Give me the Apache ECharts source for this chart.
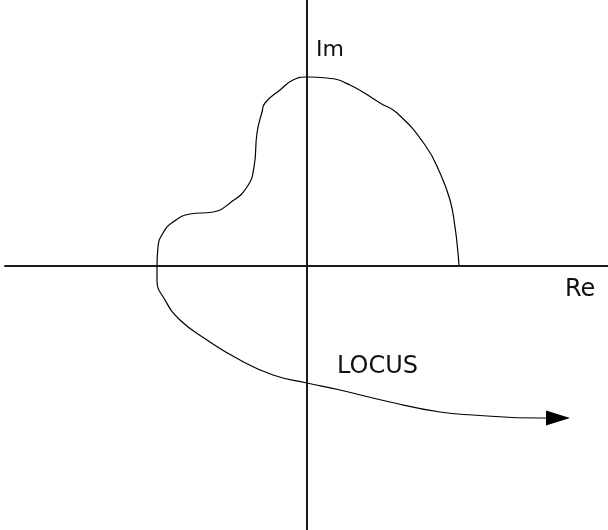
<!DOCTYPE html>
<html>
<head>
<meta charset="utf-8">
<script src="https://cdn.jsdelivr.net/npm/echarts@6/dist/echarts.min.js"></script>
<style>
  html, body { margin: 0; padding: 0; background: #fff; }
  #locus { width: 608px; height: 530px; }
</style>
</head>
<body>
<div id="locus"></div>
<script>
// locus points (Re, Im), 1 unit = 10px
var reVals = [15.2, 15.1, 14.8, 14.3, 13.3, 11.8, 9.0, 7.3, 4.3, 2.0, 0, -1.4, -2.7, -4.2, -4.5, -5.0, -5.3, -6.0, -7.7, -9.4, -11.7, -13.4, -14.4, -14.9, -15.0,
  -15.0, -14.2, -12.7, -10.0, -6.7, -3.4, 0, 3.3, 8.3, 13.3, 16.6, 23.3, 25.1]
var imVals = [0, 1.3, 3.9, 6.6, 9.3, 12.1, 15.3, 16.3, 18.1, 18.8, 18.9, 18.6, 17.6, 16.3, 15.4, 13.3, 9.9, 7.9, 6.3, 5.4, 5.2, 4.4, 3.3, 1.9, 0,
  -1.4, -3.4, -5.4, -7.4, -9.4, -10.9, -11.7, -12.4, -13.6, -14.6, -14.9, -15.2, -15.2]
var reRange = [-30.2, 30.1]
var imRange = [-26.4, 26.6]
var labels = { re: 'Re', im: 'Im', curve: 'LOCUS' }

let myChart = echarts.init(document.getElementById('locus'))

let pts = reVals.map(function (x, i) {
  let p = { value: [x, imVals[i]] }
  // 最后一个点画箭头
  if (i === reVals.length - 1) {
    p.symbol = 'triangle'
    p.symbolSize = [15, 24]
    p.symbolRotate = -90
    p.itemStyle = { color: '#000' }
  }
  return p
})

let axisLine = {
  onZero: true,
  lineStyle: { color: '#1a1a1a', width: 2 }
}

myChart.setOption({
  animation: false,
  grid: { left: 5, right: 0, top: 0, bottom: 0 },
  xAxis: {
    type: 'value',
    min: reRange[0],
    max: reRange[1],
    axisLine: axisLine,
    axisTick: { show: false },
    axisLabel: { show: false },
    splitLine: { show: false }
  },
  yAxis: {
    type: 'value',
    min: imRange[0],
    max: imRange[1],
    axisLine: axisLine,
    axisTick: { show: false },
    axisLabel: { show: false },
    splitLine: { show: false }
  },
  series: [{
    type: 'line',
    data: pts,
    smooth: 0.5,
    symbol: 'none',
    showSymbol: true,
    lineStyle: { color: '#000', width: 1.2 }
  }],
  graphic: [
    { type: 'text', left: 316, top: 39, style: { text: labels.im, font: '22px "DejaVu Sans"', fill: '#111' } },
    { type: 'text', left: 565, top: 278, style: { text: labels.re, font: '24px "DejaVu Sans"', fill: '#111' } },
    { type: 'text', left: 337, top: 355, style: { text: labels.curve, font: '24px "DejaVu Sans"', fill: '#111' } }
  ]
})
</script>
</body>
</html>
